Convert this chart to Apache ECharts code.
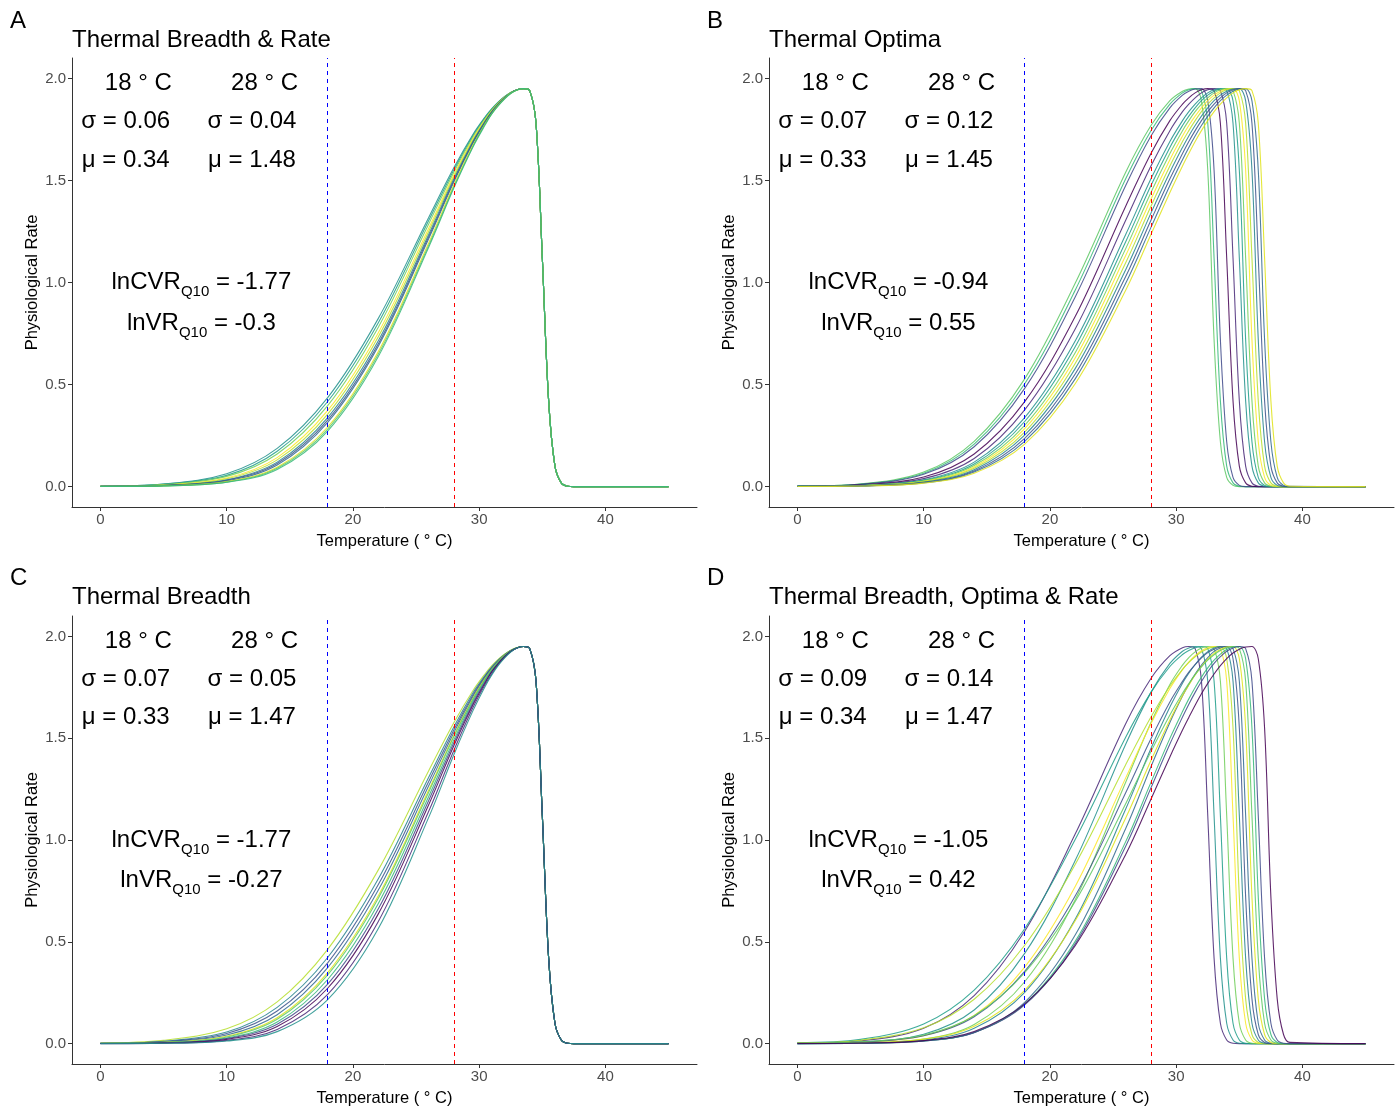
<!DOCTYPE html>
<html><head><meta charset="utf-8">
<script src="https://cdn.jsdelivr.net/npm/echarts@6/dist/echarts.min.js"></script>
<style>html,body{margin:0;padding:0;background:#fff}#c{width:1400px;height:1110px}</style>
</head><body><div id="c"></div>
<script>
// ---------- DATA ----------
const temps = [0,5,10,14,18,22,26,28,29.5,30.5,31,31.5,32,32.5,33,33.5,34,34.5,35,35.5,36,36.5,37,37.5,38,38.5,39,45];
const xTicks = [0,10,20,30,40];
const yTicks = [0,0.5,1,1.5,2];
const panelLetters = ['A','B','C','D'];
const panelTitles = ['Thermal Breadth & Rate','Thermal Optima','Thermal Breadth','Thermal Breadth, Optima & Rate'];
const refTemps = [18, 28];
const sigma18 = ['0.06','0.07','0.07','0.09'];
const sigma28 = ['0.04','0.12','0.05','0.14'];
const mu18 = ['0.34','0.33','0.33','0.34'];
const mu28 = ['1.48','1.45','1.47','1.47'];
const lnCVR = ['-1.77','-0.94','-1.77','-1.05'];
const lnVR = ['-0.3','0.55','-0.27','0.42'];

const curvesA = [
[0.0028,0.013,0.063,0.187,0.436,0.823,1.319,1.563,1.725,1.814,1.852,1.884,1.911,1.931,1.944,1.95,1.94,1.78,1.12,0.42,0.1,0.018,0.002,0,0,0,0,0],
[0.0024,0.012,0.055,0.173,0.417,0.802,1.304,1.553,1.719,1.81,1.849,1.882,1.91,1.931,1.944,1.95,1.94,1.78,1.12,0.42,0.1,0.018,0.002,0,0,0,0,0],
[0.002,0.01,0.05,0.16,0.397,0.78,1.287,1.542,1.712,1.806,1.846,1.88,1.908,1.931,1.944,1.95,1.94,1.78,1.12,0.42,0.1,0.018,0.002,0,0,0,0,0],
[0.0015,0.008,0.042,0.142,0.373,0.753,1.266,1.528,1.704,1.801,1.842,1.878,1.907,1.93,1.944,1.95,1.94,1.78,1.12,0.42,0.1,0.018,0.002,0,0,0,0,0],
[0.0012,0.0066,0.038,0.131,0.355,0.733,1.25,1.518,1.697,1.797,1.84,1.876,1.906,1.929,1.944,1.95,1.94,1.78,1.12,0.42,0.1,0.018,0.002,0,0,0,0,0],
[0.001,0.006,0.033,0.12,0.338,0.713,1.235,1.508,1.691,1.793,1.837,1.874,1.905,1.929,1.944,1.95,1.94,1.78,1.12,0.42,0.1,0.018,0.002,0,0,0,0,0],
[0.0009,0.0054,0.031,0.113,0.326,0.699,1.224,1.5,1.686,1.79,1.835,1.873,1.904,1.929,1.944,1.95,1.94,1.78,1.12,0.42,0.1,0.018,0.002,0,0,0,0,0],
[0.0008,0.0048,0.028,0.106,0.315,0.687,1.214,1.493,1.682,1.788,1.833,1.871,1.903,1.928,1.944,1.95,1.94,1.78,1.12,0.42,0.1,0.018,0.002,0,0,0,0,0],
[0.0007,0.004,0.025,0.095,0.292,0.661,1.194,1.479,1.672,1.781,1.828,1.868,1.901,1.927,1.943,1.95,1.94,1.78,1.12,0.42,0.1,0.018,0.002,0,0,0,0,0],
[0.0006,0.0036,0.022,0.09,0.282,0.648,1.182,1.47,1.667,1.78,1.827,1.867,1.9,1.927,1.943,1.95,1.94,1.78,1.12,0.42,0.1,0.018,0.002,0,0,0,0,0],
[0.0005,0.0033,0.021,0.084,0.272,0.636,1.173,1.464,1.663,1.775,1.826,1.865,1.899,1.926,1.943,1.95,1.94,1.78,1.12,0.42,0.1,0.018,0.002,0,0,0,0,0]
];

const curvesB = [
[0.0025,0.013,0.071,0.222,0.528,0.996,1.54,1.769,1.891,1.937,1.948,1.95,1.89,1.55,0.72,0.22,0.045,0.006,0,0,0,0,0,0,0,0,0,0],
[0.0022,0.012,0.065,0.208,0.504,0.962,1.508,1.744,1.874,1.929,1.944,1.95,1.94,1.78,1.12,0.42,0.1,0.018,0.002,0,0,0,0,0,0,0,0,0],
[0.0019,0.011,0.06,0.195,0.481,0.929,1.475,1.718,1.856,1.918,1.937,1.948,1.95,1.89,1.55,0.72,0.22,0.045,0.006,0,0,0,0,0,0,0,0,0],
[0.0015,0.0085,0.047,0.16,0.416,0.833,1.374,1.632,1.793,1.874,1.905,1.929,1.944,1.95,1.94,1.78,1.12,0.42,0.1,0.018,0.002,0,0,0,0,0,0,0],
[0.0012,0.007,0.039,0.138,0.376,0.772,1.305,1.571,1.744,1.837,1.874,1.905,1.929,1.944,1.95,1.94,1.78,1.12,0.42,0.1,0.018,0.002,0,0,0,0,0,0],
[0.001,0.006,0.033,0.12,0.338,0.713,1.235,1.508,1.691,1.793,1.837,1.874,1.905,1.929,1.944,1.95,1.94,1.78,1.12,0.42,0.1,0.018,0.002,0,0,0,0,0],
[0.0009,0.0055,0.031,0.111,0.319,0.685,1.2,1.475,1.662,1.769,1.815,1.856,1.891,1.918,1.937,1.948,1.95,1.89,1.55,0.72,0.22,0.045,0.006,0.001,0,0,0,0],
[0.0008,0.005,0.028,0.103,0.3,0.656,1.166,1.441,1.632,1.744,1.793,1.837,1.874,1.905,1.929,1.944,1.95,1.94,1.78,1.12,0.42,0.1,0.018,0.002,0,0,0,0],
[0.0007,0.0046,0.026,0.096,0.284,0.63,1.132,1.408,1.602,1.718,1.769,1.815,1.856,1.891,1.918,1.937,1.948,1.95,1.89,1.55,0.72,0.22,0.045,0.006,0.001,0,0,0],
[0.0006,0.0042,0.024,0.09,0.267,0.603,1.097,1.374,1.571,1.691,1.744,1.793,1.837,1.874,1.905,1.929,1.944,1.95,1.94,1.78,1.12,0.42,0.1,0.018,0.002,0,0,0],
[0.0006,0.0039,0.022,0.083,0.252,0.578,1.063,1.34,1.54,1.662,1.718,1.769,1.815,1.856,1.891,1.918,1.937,1.948,1.95,1.89,1.55,0.72,0.22,0.045,0.006,0.001,0,0],
[0.0005,0.0035,0.02,0.076,0.236,0.552,1.029,1.305,1.508,1.632,1.691,1.744,1.793,1.837,1.874,1.905,1.929,1.944,1.95,1.94,1.78,1.12,0.42,0.1,0.018,0.002,0,0],
[0.0005,0.0033,0.018,0.071,0.222,0.528,0.996,1.27,1.475,1.602,1.662,1.718,1.769,1.815,1.856,1.891,1.918,1.937,1.948,1.95,1.89,1.55,0.72,0.22,0.045,0.006,0.001,0],
[0.0004,0.003,0.017,0.065,0.208,0.504,0.962,1.235,1.441,1.571,1.632,1.691,1.744,1.793,1.837,1.874,1.905,1.929,1.944,1.95,1.94,1.78,1.12,0.42,0.1,0.018,0.002,0]
];

const curvesC = [
[0.0034,0.016,0.073,0.205,0.463,0.852,1.34,1.577,1.733,1.819,1.856,1.887,1.912,1.932,1.945,1.95,1.94,1.78,1.12,0.42,0.1,0.018,0.002,0,0,0,0,0],
[0.0025,0.012,0.057,0.178,0.423,0.808,1.308,1.556,1.722,1.811,1.85,1.883,1.91,1.931,1.944,1.95,1.94,1.78,1.12,0.42,0.1,0.018,0.002,0,0,0,0,0],
[0.002,0.01,0.05,0.16,0.397,0.78,1.287,1.542,1.712,1.806,1.846,1.88,1.908,1.931,1.944,1.95,1.94,1.78,1.12,0.42,0.1,0.018,0.002,0,0,0,0,0],
[0.0015,0.008,0.042,0.142,0.373,0.753,1.266,1.528,1.704,1.801,1.842,1.878,1.907,1.93,1.944,1.95,1.94,1.78,1.12,0.42,0.1,0.018,0.002,0,0,0,0,0],
[0.0011,0.0064,0.036,0.127,0.349,0.725,1.245,1.515,1.695,1.796,1.838,1.875,1.906,1.929,1.944,1.95,1.94,1.78,1.12,0.42,0.1,0.018,0.002,0,0,0,0,0],
[0.001,0.006,0.033,0.12,0.338,0.713,1.235,1.508,1.691,1.793,1.837,1.874,1.905,1.929,1.944,1.95,1.94,1.78,1.12,0.42,0.1,0.018,0.002,0,0,0,0,0],
[0.0008,0.0048,0.028,0.106,0.315,0.687,1.214,1.493,1.682,1.788,1.833,1.871,1.903,1.928,1.944,1.95,1.94,1.78,1.12,0.42,0.1,0.018,0.002,0,0,0,0,0],
[0.0007,0.004,0.025,0.095,0.292,0.661,1.194,1.479,1.672,1.781,1.828,1.868,1.901,1.927,1.943,1.95,1.94,1.78,1.12,0.42,0.1,0.018,0.002,0,0,0,0,0],
[0.0005,0.0033,0.021,0.084,0.272,0.636,1.173,1.464,1.663,1.775,1.826,1.865,1.899,1.926,1.943,1.95,1.94,1.78,1.12,0.42,0.1,0.018,0.002,0,0,0,0,0],
[0.0003,0.0025,0.016,0.07,0.242,0.599,1.141,1.441,1.649,1.767,1.817,1.861,1.896,1.925,1.943,1.95,1.94,1.78,1.12,0.42,0.1,0.018,0.002,0,0,0,0,0],
[0.0002,0.0018,0.013,0.059,0.216,0.564,1.111,1.42,1.634,1.758,1.811,1.856,1.893,1.923,1.943,1.95,1.94,1.78,1.12,0.42,0.1,0.018,0.002,0,0,0,0,0]
];

const curvesD = [
[0.0026,0.014,0.076,0.236,0.552,1.029,1.571,1.793,1.905,1.944,1.95,1.94,1.78,1.12,0.42,0.1,0.018,0.002,0,0,0,0,0,0,0,0,0,0],
[0.0011,0.0075,0.046,0.165,0.443,0.899,1.47,1.725,1.867,1.927,1.943,1.95,1.94,1.78,1.12,0.42,0.1,0.018,0.002,0,0,0,0,0,0,0,0,0],
[0.0044,0.021,0.097,0.263,0.564,1.002,1.505,1.725,1.852,1.911,1.931,1.944,1.95,1.94,1.78,1.12,0.42,0.1,0.018,0.002,0,0,0,0,0,0,0,0],
[0.0004,0.0033,0.022,0.094,0.304,0.707,1.284,1.577,1.764,1.859,1.896,1.924,1.943,1.95,1.94,1.78,1.12,0.42,0.1,0.018,0.002,0,0,0,0,0,0,0],
[0.0012,0.007,0.039,0.138,0.376,0.772,1.305,1.571,1.744,1.837,1.874,1.905,1.929,1.944,1.95,1.94,1.78,1.12,0.42,0.1,0.018,0.002,0,0,0,0,0,0],
[0.0036,0.017,0.078,0.218,0.483,0.88,1.37,1.604,1.756,1.838,1.872,1.9,1.923,1.939,1.948,1.95,1.89,1.55,0.72,0.22,0.045,0.006,0.001,0,0,0,0,0],
[0.0003,0.0028,0.018,0.075,0.252,0.611,1.152,1.449,1.653,1.77,1.819,1.862,1.898,1.925,1.943,1.95,1.94,1.78,1.12,0.42,0.1,0.018,0.002,0,0,0,0,0],
[0.0014,0.0074,0.039,0.132,0.355,0.725,1.232,1.497,1.678,1.779,1.824,1.861,1.894,1.92,1.937,1.948,1.95,1.89,1.55,0.72,0.22,0.045,0.006,0.001,0,0,0,0],
[0.0002,0.0018,0.013,0.055,0.203,0.533,1.056,1.36,1.577,1.707,1.764,1.815,1.859,1.896,1.926,1.943,1.95,1.94,1.78,1.12,0.42,0.1,0.018,0.002,0,0,0,0],
[0.0006,0.0038,0.022,0.085,0.262,0.603,1.108,1.39,1.589,1.709,1.761,1.81,1.852,1.888,1.916,1.936,1.948,1.95,1.89,1.55,0.72,0.22,0.045,0.006,0.001,0,0,0],
[0.0016,0.0085,0.042,0.137,0.349,0.698,1.178,1.434,1.614,1.721,1.768,1.812,1.85,1.883,1.91,1.931,1.944,1.95,1.94,1.78,1.12,0.42,0.1,0.018,0.002,0,0,0],
[0.0003,0.002,0.013,0.055,0.194,0.502,0.992,1.283,1.499,1.631,1.693,1.749,1.8,1.845,1.883,1.913,1.935,1.948,1.95,1.89,1.55,0.72,0.22,0.045,0.006,0.001,0,0],
[0.0003,0.002,0.013,0.054,0.19,0.49,0.969,1.256,1.471,1.604,1.667,1.725,1.778,1.826,1.867,1.9,1.927,1.943,1.95,1.94,1.78,1.12,0.42,0.1,0.018,0.002,0,0],
[0.0004,0.0028,0.015,0.06,0.195,0.481,0.929,1.2,1.408,1.54,1.602,1.662,1.718,1.769,1.815,1.856,1.891,1.918,1.937,1.948,1.95,1.89,1.55,0.72,0.22,0.045,0.006,0]
];

// ---------- LAYOUT / STYLE ----------
const FONT = '"Liberation Sans", Arial, Helvetica, sans-serif';
const palette = ['#21908c','#fde725','#3b528b','#5dc863','#440154','#1f9e89','#b5de2b','#31688e','#35b779','#482878','#6ece58','#26828e','#dfe318','#3e4989'];
const refColors = ['#0000ff', '#ff0000'];
const gridPos = [
  {left:72, top:58, h:449}, {left:769, top:58, h:449},
  {left:72, top:616, h:448}, {left:769, top:616, h:448}
];
const letterPos = [{left:10, top:9},{left:707, top:9},{left:10, top:566},{left:707, top:566}];
const titlePos = [{left:72, top:28},{left:769, top:28},{left:72, top:585},{left:769, top:585}];

const panels = [curvesA, curvesB, curvesC, curvesD];
const grid = [], xAxis = [], yAxis = [], series = [], title = [];

panels.forEach((curves, p) => {
  const g = gridPos[p];
  grid.push({left:g.left, top:g.top, width:625, height:g.h});
  title.push({text:panelLetters[p], left:letterPos[p].left, top:letterPos[p].top, padding:0,
    textStyle:{fontSize:24, fontWeight:'normal', color:'#000', fontFamily:FONT}});
  title.push({text:panelTitles[p], left:titlePos[p].left, top:titlePos[p].top, padding:0,
    textStyle:{fontSize:24, fontWeight:'normal', color:'#000', fontFamily:FONT}});
  xAxis.push({
    gridIndex:p, type:'value', min:-2.25, max:47.25,
    axisLine:{show:true, onZero:false, lineStyle:{color:'#333', width:1}},
    axisTick:{show:true, length:4, customValues:xTicks, lineStyle:{color:'#333'}},
    axisLabel:{customValues:xTicks, color:'#4d4d4d', fontSize:15, margin:5, fontFamily:FONT},
    splitLine:{show:false},
    name:'Temperature ( ° C)', nameLocation:'middle', nameGap:26,
    nameTextStyle:{fontSize:16.5, color:'#000', fontFamily:FONT}
  });
  yAxis.push({
    gridIndex:p, type:'value', min:-0.1, max:2.1,
    axisLine:{show:true, onZero:false, lineStyle:{color:'#333', width:1}},
    axisTick:{show:true, length:4, customValues:yTicks, lineStyle:{color:'#333'}},
    axisLabel:{customValues:yTicks, formatter:v => v.toFixed(1), color:'#4d4d4d', fontSize:15, margin:6, fontFamily:FONT},
    splitLine:{show:false},
    name:'Physiological Rate', nameLocation:'middle', nameGap:25, nameRotate:90,
    nameTextStyle:{fontSize:16.5, color:'#000', fontFamily:FONT}
  });
  curves.forEach((ys, k) => {
    series.push({
      type:'line', xAxisIndex:p, yAxisIndex:p, silent:true, animation:false,
      data: temps.map((t, i) => [t, ys[i]]),
      smooth:0.35, showSymbol:false, symbol:'none', z:2,
      lineStyle:{width:1.1, color:palette[(k*5 + p*3) % palette.length], opacity:0.85}
    });
  });
  // reference-temperature dashed lines, one series each
  refTemps.forEach((rt, j) => {
    series.push({
      type:'line', xAxisIndex:p, yAxisIndex:p, silent:true, animation:false, z:4,
      data:[], symbol:'none', lineStyle:{color:refColors[j]}, itemStyle:{color:refColors[j]},
      markLine:{symbol:['none','none'], silent:true, animation:false, label:{show:false},
        lineStyle:{color:refColors[j], type:[4,4], width:1, opacity:1},
        emphasis:{disabled:true},
        data:[{xAxis:rt}]}
    });
  });
  const ann = [
    {value:[3, 1.975], text: refTemps[0] + ' ° C'},
    {value:[13, 1.975], text: refTemps[1] + ' ° C'},
    {value:[2, 1.79], text:'σ = ' + sigma18[p]},
    {value:[12, 1.79], text:'σ = ' + sigma28[p]},
    {value:[2, 1.6], text:'μ = ' + mu18[p]},
    {value:[12, 1.6], text:'μ = ' + mu28[p]},
    {value:[8, 1.0], text:'{a|lnCVR}{s|Q10}{a| = ' + lnCVR[p] + '}'},
    {value:[8, 0.8], text:'{a|lnVR}{s|Q10}{a| = ' + lnVR[p] + '}'}
  ];
  series.push({
    type:'scatter', xAxisIndex:p, yAxisIndex:p, silent:true, animation:false, z:5,
    symbol:'circle', symbolSize:1, itemStyle:{color:'rgba(0,0,0,0)'},
    data: ann,
    labelLayout:{hideOverlap:false},
    label:{show:true, position:'inside', align:'center', verticalAlign:'middle',
      color:'#000', fontSize:24, fontFamily:FONT, opacity:1,
      formatter: d => d.data.text,
      rich:{
        a:{fontSize:24, lineHeight:24, verticalAlign:'top', color:'#000', fontFamily:FONT},
        s:{fontSize:15, lineHeight:15, padding:[14,0,0,0], verticalAlign:'top', color:'#000', fontFamily:FONT}
      }}
  });
});

const chart = echarts.init(document.getElementById('c'), null, {renderer:'canvas'});
chart.setOption({backgroundColor:'#fff', animation:false, title, grid, xAxis, yAxis, series});
</script>
</body></html>
